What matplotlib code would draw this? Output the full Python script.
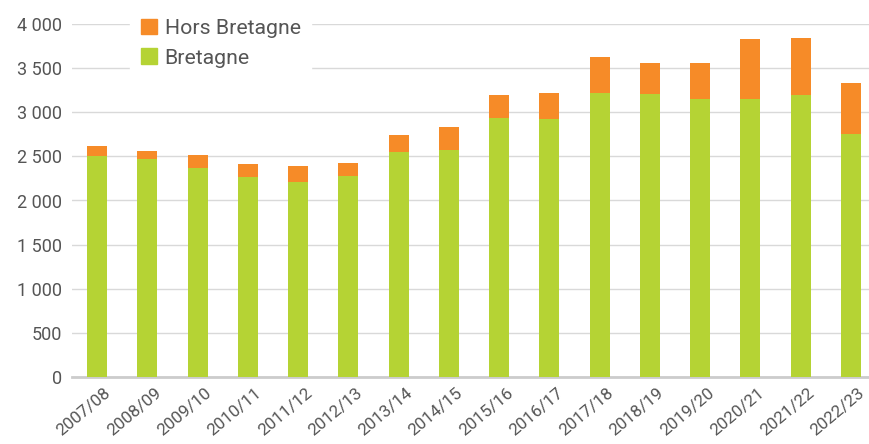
import matplotlib
matplotlib.use("Agg")
import matplotlib.pyplot as plt
from matplotlib.patches import Patch
from matplotlib.transforms import ScaledTranslation

years = ["2007/08", "2008/09", "2009/10", "2010/11", "2011/12", "2012/13", "2013/14", "2014/15",
         "2015/16", "2016/17", "2017/18", "2018/19", "2019/20", "2020/21", "2021/22", "2022/23"]
bretagne = [2502, 2472, 2370, 2271, 2214, 2279, 2551, 2576, 2937, 2925, 3223, 3209, 3152, 3152, 3200, 2752]
totals = [2622, 2559, 2517, 2415, 2389, 2426, 2744, 2832, 3194, 3220, 3628, 3557, 3557, 3832, 3843, 3333]
hors = [t - b for t, b in zip(totals, bretagne)]

yticks = [0, 500, 1000, 1500, 2000, 2500, 3000, 3500, 4000]

GREEN = "#b5d334"
ORANGE = "#f68b28"
TEXT = "#555555"

plt.rcParams['font.family'] = ['Roboto', 'DejaVu Sans']

fig = plt.figure(figsize=(8.69, 4.44), dpi=100)
ax = fig.add_axes([72/869, 67/444, 1 - 72/869, (377-24)/444])

x = list(range(len(years)))
ax.bar(x, bretagne, width=0.4, color=GREEN, zorder=3)
ax.bar(x, hors, bottom=bretagne, width=0.4, color=ORANGE, zorder=3)

ax.set_xlim(-0.5, 15.36)
ax.set_ylim(0, 4000)
ax.set_yticks(yticks)
ax.set_yticklabels([f"{v:,}".replace(",", " ") for v in yticks])
ax.set_xticks(x)
ax.set_xticklabels(years, rotation=40, ha="right", rotation_mode="anchor")

ax.grid(axis="y", color="#d9d9d9", linewidth=1, zorder=0)
ax.tick_params(axis="both", length=0, colors=TEXT)
ax.tick_params(axis="y", pad=7, labelsize=13)
ax.tick_params(axis="x", pad=6, labelsize=12.3)
offset = ScaledTranslation(7/100, 0, fig.dpi_scale_trans)
for lab in ax.get_xticklabels():
    lab.set_transform(lab.get_transform() + offset)
for s in ["top", "right", "left"]:
    ax.spines[s].set_visible(False)
ax.spines["bottom"].set_color("#cccccc")
ax.spines["bottom"].set_linewidth(2)

handles = [Patch(color=ORANGE, label="Hors Bretagne"), Patch(color=GREEN, label="Bretagne")]
leg = fig.legend(handles=handles, loc="upper left", bbox_to_anchor=(130/869, 1 - 8/444),
                 frameon=True, fontsize=15.3, handlelength=0.75, handleheight=0.75,
                 handletextpad=0.38, labelspacing=0.5, borderpad=0.5, borderaxespad=0)
leg.get_frame().set_facecolor("white")
leg.get_frame().set_edgecolor("white")
leg.get_frame().set_alpha(1)
leg.get_frame().set_boxstyle("square", pad=0)
for t in leg.get_texts():
    t.set_color(TEXT)
leg.set_zorder(10)

fig.savefig("out.png", dpi=100)
